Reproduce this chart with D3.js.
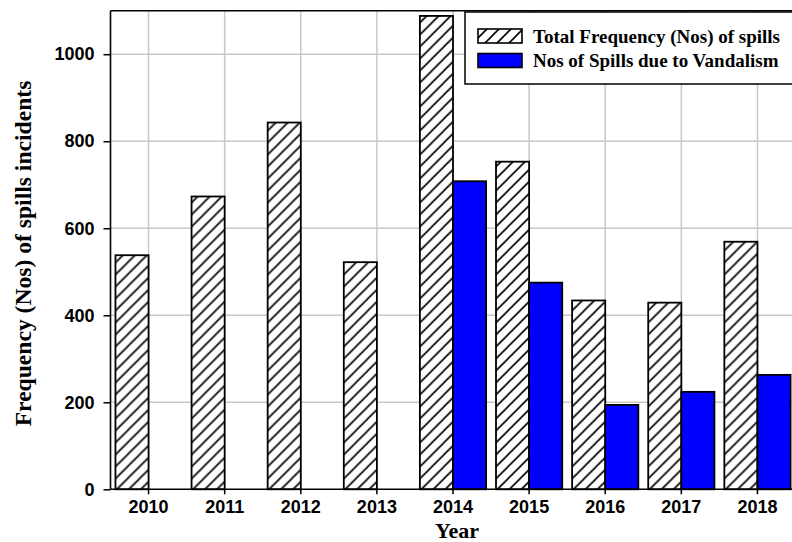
<!DOCTYPE html>
<html>
<head>
<meta charset="utf-8">
<script src="https://cdn.jsdelivr.net/npm/d3@7"></script>
<style>
  body { margin: 0; background: #fff; }
  .tick text { font-family: "Liberation Sans", Arial, sans-serif; font-weight: bold; font-size: 18px; fill: #000; }
  .title { font-family: "Liberation Serif", "Times New Roman", serif; font-weight: bold; fill: #000; }
</style>
</head>
<body>
<div id="chart"></div>
<script>
var years = ["2010", "2011", "2012", "2013", "2014", "2015", "2016", "2017", "2018"];
var totalSpills = [538, 673, 843, 522, 1088, 753, 434, 429, 569];
var vandalSpills = [null, null, null, null, 708, 475, 194, 224, 263];
var yTicks = [0, 200, 400, 600, 800, 1000];
var seriesNames = ["Total Frequency (Nos) of spills", "Nos of Spills due to Vandalism"];

var svgWidth = 792;
var svgHeight = 542;

var margin = { top: 10.7, right: -3.5, bottom: 52.7, left: 110.5 };
var width = svgWidth - margin.left - margin.right;
var height = svgHeight - margin.top - margin.bottom;

var svg = d3.select("#chart")
    .append("svg")
    .attr("width", svgWidth)
    .attr("height", svgHeight);

// hatch pattern for the total bars
var defs = svg.append("defs");
var hatch = defs.append("pattern")
    .attr("id", "hatch")
    .attr("patternUnits", "userSpaceOnUse")
    .attr("width", 12)
    .attr("height", 12);
hatch.append("rect").attr("width", 12).attr("height", 12).attr("fill", "#fff");
hatch.append("path")
    .attr("d", "M-2,14 L14,-2 M-6,6 L6,-6 M6,18 L18,6")
    .attr("stroke", "#000")
    .attr("stroke-width", 1.6);

var chartGroup = svg.append("g")
    .attr("transform", `translate(${margin.left}, ${margin.top})`);

var x0 = d3.scaleBand()
    .domain(years)
    .range([0, width])
    .paddingInner(0.13)
    .paddingOuter(0.065);

var x1 = d3.scaleBand()
    .domain(["total", "vandal"])
    .range([0, x0.bandwidth()]);

var y = d3.scaleLinear()
    .domain([0, 1100])
    .range([height, 0]);

// gridlines
chartGroup.append("g")
    .selectAll("line")
    .data(yTicks.slice(1))
    .enter()
    .append("line")
    .attr("x1", 0)
    .attr("x2", width)
    .attr("y1", d => y(d))
    .attr("y2", d => y(d))
    .attr("stroke", "#c8c8c8")
    .attr("stroke-width", 1.5);

chartGroup.append("g")
    .selectAll("line")
    .data(years)
    .enter()
    .append("line")
    .attr("x1", d => x0(d) + x0.bandwidth() / 2)
    .attr("x2", d => x0(d) + x0.bandwidth() / 2)
    .attr("y1", 0)
    .attr("y2", height)
    .attr("stroke", "#c8c8c8")
    .attr("stroke-width", 1.5);

// bars
var groups = chartGroup.selectAll(".yr")
    .data(years)
    .enter()
    .append("g")
    .attr("class", "yr")
    .attr("transform", d => `translate(${x0(d)}, 0)`);

groups.append("rect")
    .attr("x", x1("total"))
    .attr("width", x1.bandwidth())
    .attr("y", (d, i) => y(totalSpills[i]))
    .attr("height", (d, i) => height - y(totalSpills[i]))
    .attr("fill", "url(#hatch)")
    .attr("stroke", "#000")
    .attr("stroke-width", 1.8);

groups.filter((d, i) => vandalSpills[i] !== null)
    .append("rect")
    .attr("x", x1("vandal"))
    .attr("width", x1.bandwidth())
    .attr("y", d => y(vandalSpills[years.indexOf(d)]))
    .attr("height", d => height - y(vandalSpills[years.indexOf(d)]))
    .attr("fill", "#0000ff")
    .attr("stroke", "#000")
    .attr("stroke-width", 1.8);

// axes
var xAxis = chartGroup.append("g")
    .attr("transform", `translate(0, ${height})`)
    .call(d3.axisBottom(x0).tickSize(5).tickPadding(6));

var yAxis = chartGroup.append("g")
    .call(d3.axisLeft(y).tickValues(yTicks).tickFormat(d3.format("d")).tickSize(7).tickPadding(9));

[xAxis, yAxis].forEach(ax => {
    ax.select(".domain").attr("stroke", "#000").attr("stroke-width", 1.6);
    ax.selectAll(".tick line").attr("stroke", "#000").attr("stroke-width", 1.5);
});
xAxis.select(".domain").attr("d", `M0,0H${width}`);
yAxis.select(".domain").attr("d", `M0,${height}V0`);

// top frame line
chartGroup.append("line")
    .attr("x1", 0).attr("x2", width)
    .attr("y1", 0).attr("y2", 0)
    .attr("stroke", "#000")
    .attr("stroke-width", 1.6);

// axis titles
svg.append("text")
    .attr("class", "title")
    .attr("x", 457)
    .attr("y", 538)
    .attr("text-anchor", "middle")
    .style("font-size", "22px")
    .text("Year");

svg.append("text")
    .attr("class", "title")
    .attr("transform", "translate(31, 253.5) rotate(-90)")
    .attr("text-anchor", "middle")
    .style("font-size", "23.6px")
    .text("Frequency (Nos) of spills incidents");

// legend
var legend = svg.append("g");
legend.append("rect")
    .attr("x", 465)
    .attr("y", 12)
    .attr("width", 340)
    .attr("height", 72)
    .attr("fill", "#fff")
    .attr("stroke", "#000")
    .attr("stroke-width", 1.5);

var legendFills = ["url(#hatch)", "#0000ff"];
seriesNames.forEach((name, i) => {
    legend.append("rect")
        .attr("x", 478)
        .attr("y", 29 + i * 24.5)
        .attr("width", 44)
        .attr("height", 14)
        .attr("fill", legendFills[i])
        .attr("stroke", "#000")
        .attr("stroke-width", 1.6);
    legend.append("text")
        .attr("class", "title")
        .attr("x", 533)
        .attr("y", 42.5 + i * 24.5)
        .style("font-size", "19px")
        .text(name);
});
</script>
</body>
</html>
